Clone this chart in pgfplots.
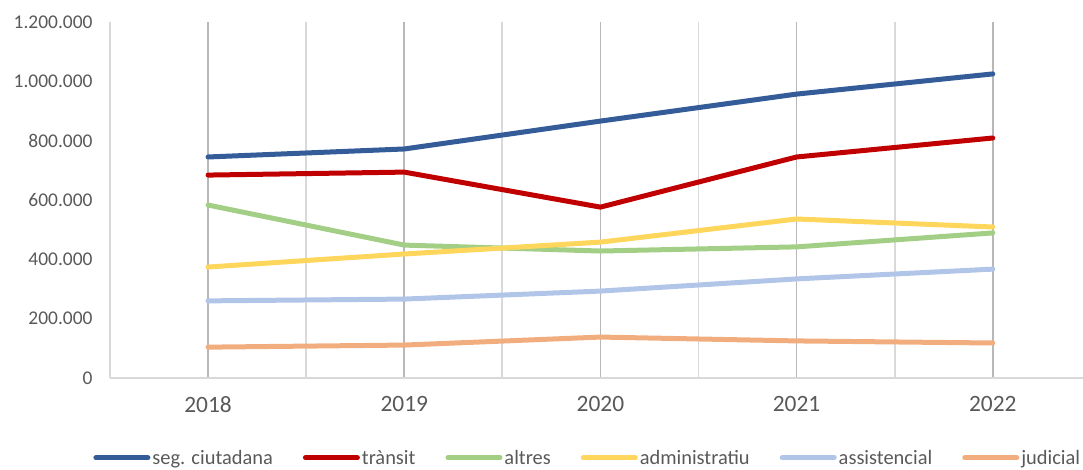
\documentclass[border=0pt]{standalone}
\usepackage{fontspec}
\setmainfont{Carlito}
\usepackage{pgfplots}
\pgfplotsset{compat=1.18}

\definecolor{cSeg}{HTML}{335C98}
\definecolor{cTra}{HTML}{C00000}
\definecolor{cAlt}{HTML}{A2CF85}
\definecolor{cAdm}{HTML}{FFD65C}
\definecolor{cAss}{HTML}{B0C5E8}
\definecolor{cJud}{HTML}{F2AD7F}
\definecolor{txt}{HTML}{595959}

\begin{document}
\begin{tikzpicture}
\begin{axis}[
    name=ax,
    scale only axis,
    width=973bp, height=356bp,
    xmin=2017.5, xmax=2022.46,
    ymin=0, ymax=1200000,
    xtick={2018,2019,2020,2021,2022},
    minor xtick={2017.5,2018.5,2019.5,2020.5,2021.5},
    ytick={0,200000,400000,600000,800000,1000000,1200000},
    xticklabel style={font=\fontsize{23.5}{26}\selectfont, text=txt, yshift=-15bp},
    yticklabel style={font=\fontsize{19.5}{22}\selectfont, text=txt, xshift=-14bp},
    x tick label style={/pgf/number format/1000 sep={}},
    y tick label style={/pgf/number format/.cd, fixed, 1000 sep={.}},
    /pgf/number format/assume math mode=true,
    scaled y ticks=false,
    axis x line*=bottom,
    axis y line*=left,
    x axis line style={draw=black!15, line width=1.5bp, -},
    y axis line style={draw=none, -},
    major tick length=0pt, minor tick length=0pt,
    xmajorgrids, xminorgrids,
    major grid style={draw=black!28, line width=1.8bp},
    minor grid style={draw=black!15, line width=1.8bp},
    every axis plot/.append style={line width=5bp, line join=round, line cap=round},
    legend columns=6,
    legend style={at={(0.491,-0.224)}, anchor=center, draw=none, fill=none,
        font=\fontsize{20.5}{23}\selectfont, text=txt,
        /tikz/every even column/.append style={column sep=28bp},
        nodes={inner xsep=2bp, inner ysep=1bp}},
    legend image code/.code={\draw[#1] (0bp,0bp) -- (52bp,0bp);},
]
\addplot[cSeg] coordinates {(2018,745000) (2019,772000) (2020,866000) (2021,957000) (2022,1025000)};
\addlegendentry{seg. ciutadana}
\addplot[cTra] coordinates {(2018,684000) (2019,694000) (2020,576000) (2021,745000) (2022,809000)};
\addlegendentry{trànsit}
\addplot[cAlt] coordinates {(2018,583000) (2019,448000) (2020,428000) (2021,442000) (2022,489000)};
\addlegendentry{altres}
\addplot[cAdm] coordinates {(2018,374000) (2019,418000) (2020,458000) (2021,536000) (2022,509000)};
\addlegendentry{administratiu}
\addplot[cAss] coordinates {(2018,260000) (2019,266000) (2020,293000) (2021,334000) (2022,367000)};
\addlegendentry{assistencial}
\addplot[cJud] coordinates {(2018,104000) (2019,111000) (2020,138000) (2021,125000) (2022,118000)};
\addlegendentry{judicial}
\end{axis}
\pgfresetboundingbox
\path[use as bounding box] ([xshift=-110bp,yshift=-92bp]ax.south west) rectangle ([yshift=22bp]ax.north east);
\end{tikzpicture}
\end{document}
